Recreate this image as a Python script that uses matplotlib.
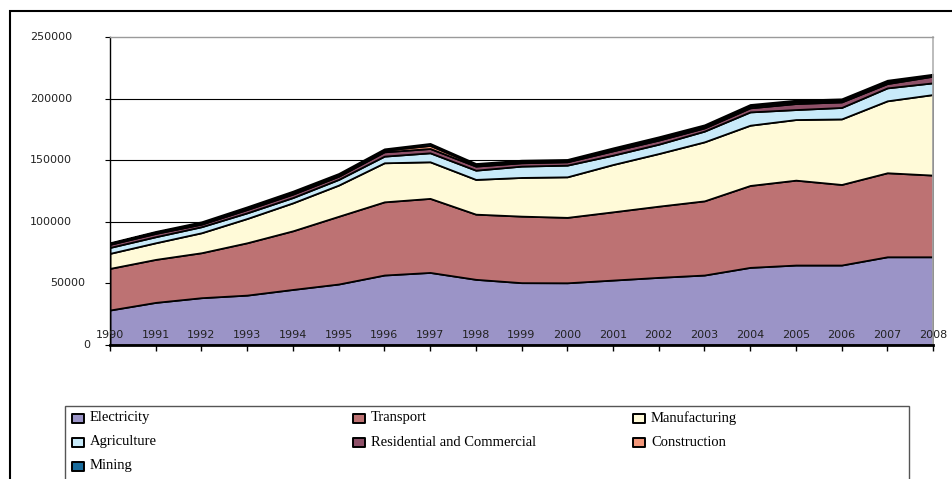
import matplotlib
matplotlib.use("Agg")
import matplotlib.pyplot as plt
from matplotlib.patches import Rectangle

W, H = 952, 479

years = list(range(1990, 2009))
series_names = ["Electricity", "Transport", "Manufacturing", "Agriculture",
                "Residential and Commercial", "Construction", "Mining"]
electricity = [28400, 34600, 38400, 40500, 45100, 49500, 56800, 58900, 53300, 50600,
               50500, 52700, 54900, 56800, 63000, 64900, 64900, 71600, 71600]
transport = [33800, 34900, 36500, 42500, 47600, 55000, 59400, 60100, 52900, 54000,
             53100, 55400, 57800, 60200, 66500, 68900, 65400, 68200, 66300]
manufacturing = [12200, 13500, 16200, 19700, 22700, 25300, 31700, 29700, 28200, 31400,
                 32900, 38400, 42700, 47900, 48900, 49200, 53200, 58400, 65400]
agriculture = [4800, 4900, 4900, 4600, 4300, 4600, 5400, 7300, 7500, 9200,
               9500, 7600, 7600, 8700, 10800, 8100, 9300, 10500, 9500]
residential = [2500, 2700, 2100, 2700, 2800, 2600, 3500, 3500, 3300, 2700,
               2700, 3500, 3300, 2600, 3300, 4900, 4500, 3500, 5400]
construction = [800, 900, 1000, 1200, 1300, 1200, 1300, 2500, 1200, 1200,
                1100, 1300, 1500, 1400, 1500, 1500, 1400, 1500, 900]
mining = [500, 700, 900, 1000, 1100, 1000, 1100, 1600, 900, 900,
          800, 1100, 1200, 1100, 1200, 1200, 1100, 1200, 700]
yticks = [0, 50000, 100000, 150000, 200000, 250000]
ytick_labels = ["0", "50000", "100000", "150000", "200000", "250000"]

colors = ["#9b94c7", "#bd7273", "#fffad8", "#c8eaf9", "#8e5068", "#f2977a", "#1a6c9c"]
values = [electricity, transport, manufacturing, agriculture, residential, construction, mining]

fig = plt.figure(figsize=(W / 100, H / 100), dpi=100)
fig.patch.set_facecolor("white")

ax_l, ax_r, ax_t, ax_b = 110, 933, 37, 345
ax = fig.add_axes([ax_l / W, 1 - ax_b / H, (ax_r - ax_l) / W, (ax_b - ax_t) / H])
ax.set_facecolor("none")
ax.set_axisbelow(False)

ax.stackplot(years, *values, colors=colors, edgecolor="black", linewidth=1.3, zorder=2)

ax.set_xlim(years[0], years[-1])
ax.set_ylim(yticks[0], yticks[-1])

# gridlines (inner only)
ax.hlines(yticks[1:-1], years[0], years[-1], colors="black", linewidth=0.8, zorder=0.5)

for side, col, lw in [("left", "black", 1.0), ("bottom", "black", 2.0),
                      ("top", "#9a9a9a", 1.0), ("right", "#b0b0b0", 1.2)]:
    ax.spines[side].set_color(col)
    ax.spines[side].set_linewidth(lw)
    ax.spines[side].set_zorder(3)

ax.set_yticks(yticks)
ax.set_yticklabels([])
ax.tick_params(axis="y", direction="out", length=3.6, width=0.8, color="black")
label_off = {1: 20, 5: 25, 6: 38}
for v, lab in zip(yticks, ytick_labels):
    ax.annotate(lab, xy=(0, v), xycoords=("axes fraction", "data"),
                xytext=(-label_off[len(lab)] * 0.72, 0), textcoords="offset points",
                ha="right", va="center", fontsize=8, color="#222222",
                family="DejaVu Sans", annotation_clip=False)

ax.set_xticks(years)
ax.set_xticklabels([str(y) for y in years], fontsize=8, color="#222222", family="DejaVu Sans")
ax.tick_params(axis="x", direction="out", length=4.3, width=1.0, color="black", pad=-15)
ax.xaxis.set_zorder(4)

# outer chart border
fig.add_artist(Rectangle((10 / W, -0.1), 1.2, 1 - 11 / H + 0.1, transform=fig.transFigure,
                         fill=False, edgecolor="black", linewidth=1.5))

# legend box
lg_l, lg_r, lg_t = 65, 909, 406
fig.add_artist(Rectangle((lg_l / W, -0.1), (lg_r - lg_l) / W, 1 - lg_t / H + 0.1,
                         transform=fig.transFigure, fill=False, edgecolor="#555555", linewidth=1.0))
col_x = [72, 353, 633]
row_y0, row_dy = 418, 24
for i, (name, c) in enumerate(zip(series_names, colors)):
    r, cidx = divmod(i, 3)
    mx = col_x[cidx]
    my = row_y0 + r * row_dy
    fig.add_artist(Rectangle((mx / W, 1 - (my + 4.5) / H), 12 / W, 9 / H,
                             transform=fig.transFigure, facecolor=c, edgecolor="black",
                             linewidth=1.4, joinstyle="round"))
    fig.text((mx + 18) / W, 1 - my / H, name, ha="left", va="center",
             fontsize=10.5, family="Liberation Serif", color="black")

fig.savefig("out.png", dpi=100, facecolor="white")
